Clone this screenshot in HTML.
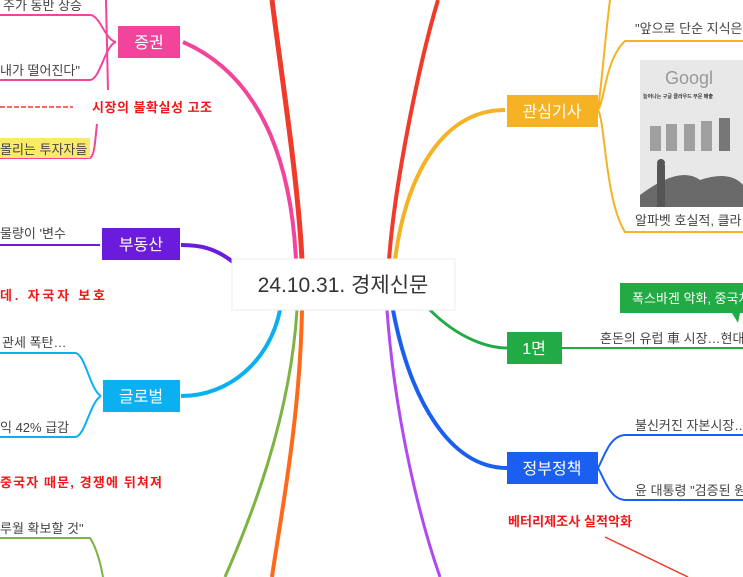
<!DOCTYPE html>
<html><head><meta charset="utf-8"><style>
html,body{margin:0;padding:0;background:#fff;width:743px;height:577px;overflow:hidden}
svg{display:block}
text{font-family:"Liberation Sans","Noto Sans CJK KR",sans-serif}
</style></head><body>
<svg width="743" height="577" viewBox="0 0 743 577" xmlns="http://www.w3.org/2000/svg">
<path d="M302,260 C298,180 282,80 272,0" stroke="#f03a2a" stroke-width="5" fill="none"/>
<path d="M389,260 C395,180 420,60 438,0" stroke="#f03a2a" stroke-width="4" fill="none"/>
<path d="M296,260 C292,180 270,80 183,42" stroke="#f3449b" stroke-width="4" fill="none"/>
<path d="M233,262 C215,248 200,245 181,245" stroke="#6a1bdc" stroke-width="4" fill="none"/>
<path d="M280,310 C270,360 230,396 181,396" stroke="#0ab0f0" stroke-width="4" fill="none"/>
<path d="M297,310 C290,420 250,520 225,577" stroke="#7cb342" stroke-width="3" fill="none"/>
<path d="M302,310 C300,420 280,520 272,577" stroke="#ff6a1a" stroke-width="4" fill="none"/>
<path d="M387,310 C395,420 420,520 440,577" stroke="#b04af0" stroke-width="3" fill="none"/>
<path d="M395,260 C405,180 440,110 505,110" stroke="#f5b324" stroke-width="4" fill="none"/>
<path d="M430,310 C460,340 490,348 507,348" stroke="#22aa44" stroke-width="3" fill="none"/>
<path d="M393,310 C410,400 450,468 507,468" stroke="#1a5ff0" stroke-width="4" fill="none"/>
<path d="M0,15 L90,15 C100,15 105,40 116,42 M0,80 L90,80 C100,80 105,45 116,42 M106,0 L108,90 M97,124 C95,140 95,155 90,158 L0,158" stroke="#f3449b" stroke-width="2" fill="none"/>
<rect x="0" y="138" width="90" height="20" fill="#fbe96a"/>
<path d="M0,107 L73,107" stroke="#f03a2a" stroke-width="1.5" stroke-dasharray="5,2" fill="none"/>
<path d="M0,245 L100,245" stroke="#6a1bdc" stroke-width="2" fill="none"/>
<path d="M0,353 L75,353 C85,353 90,390 101,396 M0,437 L75,437 C85,437 90,402 101,396" stroke="#0ab0f0" stroke-width="2" fill="none"/>
<path d="M0,538 L90,538 C95,545 100,560 103,577" stroke="#7cb342" stroke-width="2" fill="none"/>
<path d="M598,110 C605,100 605,60 625,41 L743,41 M598,110 C605,120 605,200 625,232 L743,232 M598,110 C602,80 606,30 610,0" stroke="#f5b324" stroke-width="2" fill="none"/>
<path d="M562,348 L743,348" stroke="#22aa44" stroke-width="2" fill="none"/>
<path d="M598,468 C605,455 610,435 626,435 L743,435 M598,468 C605,480 610,500 626,500 L743,500" stroke="#1a5ff0" stroke-width="2" fill="none"/>
<path d="M605,537 L688,577" stroke="#f03a2a" stroke-width="1.5" fill="none"/>
<rect x="640" y="60" width="103" height="147" fill="#e8e8e8"/>
<text x="665" y="84" font-size="18" fill="#999">Googl</text>
<text x="643" y="98" font-size="5" fill="#333" font-weight="bold">늘어나는 구글 클라우드 부문 매출</text>
<rect x="650" y="126" width="11" height="25" fill="#a0a0a0"/><rect x="666" y="124" width="11" height="27" fill="#a0a0a0"/><rect x="684" y="124" width="11" height="27" fill="#a0a0a0"/><rect x="701" y="121" width="11" height="30" fill="#a0a0a0"/><rect x="719" y="118" width="11" height="33" fill="#777"/>
<path d="M640,207 L640,195 Q680,165 700,180 Q730,170 743,185 L743,207 Z" fill="#6a6a6a"/>
<rect x="657" y="165" width="8" height="42" fill="#555"/><circle cx="661" cy="163" r="4" fill="#555"/>
<rect x="232" y="259" width="223" height="51" fill="#fff" stroke="#eee"/>
<text x="343" y="292" font-size="21" fill="#333" text-anchor="middle">24.10.31. 경제신문</text>
<rect x="118" y="26" width="62" height="32" fill="#f3449b"/><text x="149" y="48" font-size="16" fill="#fff" text-anchor="middle">증권</text>
<rect x="102" y="228" width="78" height="32" fill="#6a1bdc"/><text x="141" y="250" font-size="16" fill="#fff" text-anchor="middle">부동산</text>
<rect x="103" y="380" width="77" height="32" fill="#0ab0f0"/><text x="141" y="402" font-size="16" fill="#fff" text-anchor="middle">글로벌</text>
<rect x="507" y="95" width="91" height="32" fill="#f5b324"/><text x="552" y="117" font-size="16" fill="#fff" text-anchor="middle">관심기사</text>
<rect x="507" y="332" width="55" height="32" fill="#22aa44"/><text x="534" y="354" font-size="16" fill="#fff" text-anchor="middle">1면</text>
<rect x="507" y="452" width="91" height="32" fill="#1a5ff0"/><text x="552" y="474" font-size="16" fill="#fff" text-anchor="middle">정부정책</text>
<path d="M620,283 L743,283 L743,313 L740,313 L738,323 L732,313 L620,313 Z" fill="#22aa44"/>
<text x="632" y="303" font-size="13" fill="#fff">폭스바겐 악화, 중국차</text>
<g font-size="13" fill="#444">
<text x="3" y="10">주가 동반 상승</text>
<text x="0" y="75">내가 떨어진다"</text>
<text x="0" y="154">몰리는 투자자들</text>
<text x="0" y="238">물량이 '변수</text>
<text x="2" y="347">관세 폭탄…</text>
<text x="0" y="432">익 42% 급감</text>
<text x="0" y="533">루월 확보할 것"</text>
<text x="635" y="33">"앞으로 단순 지식은</text>
<text x="635" y="225">알파벳 호실적, 클라</text>
<text x="600" y="343">혼돈의 유럽 車 시장…현대차</text>
<text x="635" y="430">불신커진 자본시장…</text>
<text x="635" y="495">윤 대통령 "검증된 원</text>
</g>
<g font-size="13" fill="#f01818" font-weight="bold">
<text x="92" y="112" textLength="120">시장의 불확실성 고조</text>
<text x="0" y="300" textLength="105">데. 자국자 보호</text>
<text x="0" y="487" textLength="162">중국자 때문, 경쟁에 뒤쳐져</text>
<text x="508" y="526" textLength="124">베터리제조사 실적악화</text>
</g>
</svg>
</body></html>
